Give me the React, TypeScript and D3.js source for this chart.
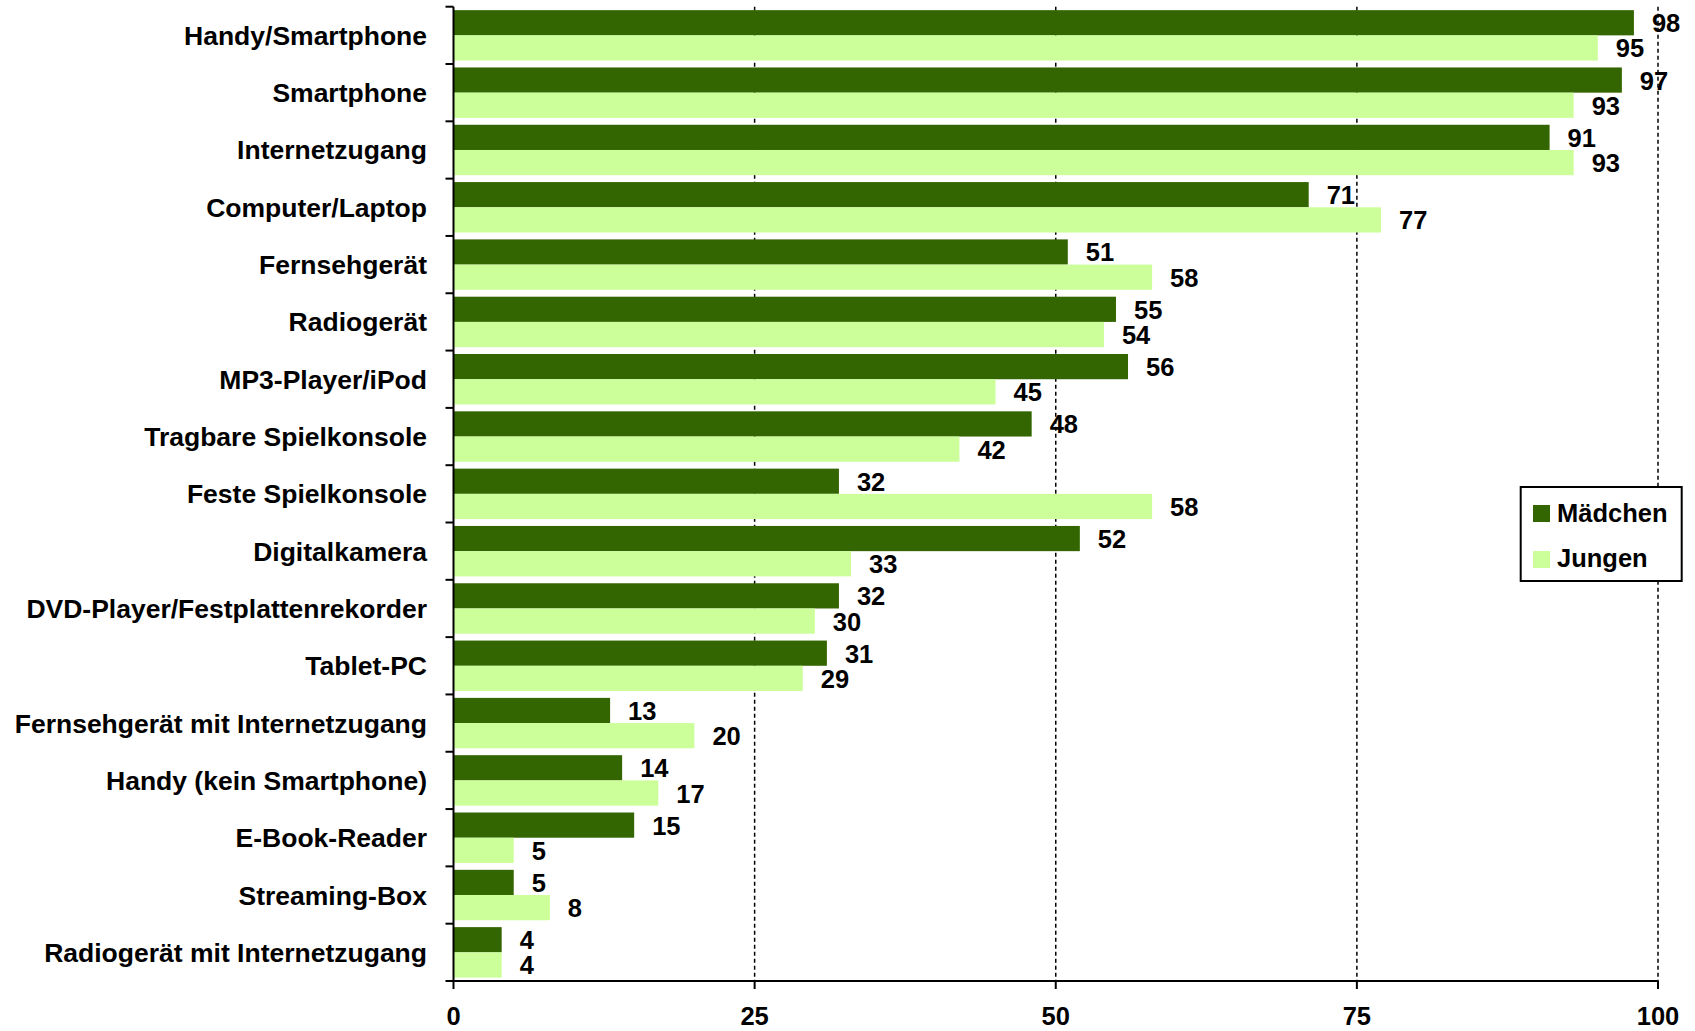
import React from "react";
import * as d3 from "d3";

const categories = [
  "Handy/Smartphone",
  "Smartphone",
  "Internetzugang",
  "Computer/Laptop",
  "Fernsehgerät",
  "Radiogerät",
  "MP3-Player/iPod",
  "Tragbare Spielkonsole",
  "Feste Spielkonsole",
  "Digitalkamera",
  "DVD-Player/Festplattenrekorder",
  "Tablet-PC",
  "Fernsehgerät mit Internetzugang",
  "Handy (kein Smartphone)",
  "E-Book-Reader",
  "Streaming-Box",
  "Radiogerät mit Internetzugang",
];
const maedchen = [98, 97, 91, 71, 51, 55, 56, 48, 32, 52, 32, 31, 13, 14, 15, 5, 4];
const jungen = [95, 93, 93, 77, 58, 54, 45, 42, 58, 33, 30, 29, 20, 17, 5, 8, 4];
const xTicks = [0, 25, 50, 75, 100];
const seriesNames = ["Mädchen", "Jungen"];
const colors = ["#336600", "#CCFF99"];

const W = 1695;
const H = 1031;
const left = 453.5;
const right = 1658;
const top = 6.7;
const bottom = 981;
const FONT = "'Liberation Sans', Arial, sans-serif";

export default function App() {
  const x = d3.scaleLinear().domain([0, 100]).range([left, right]);
  const y = d3.scaleBand<string>().domain(categories).range([top, bottom]).paddingInner(0).paddingOuter(0);
  const bw = y.bandwidth();
  const barH = bw * 0.44;
  const gap = (bw - 2 * barH) / 2;
  const series = [maedchen, jungen];

  return (
    <svg width={W} height={H} style={{ position: "absolute", left: 0, top: 0, background: "#fff" }}>
      {/* grid */}
      {xTicks.slice(1).map((t) => (
        <line key={"g" + t} x1={x(t)} x2={x(t)} y1={top} y2={bottom} stroke="#000" strokeWidth={1.5} strokeDasharray="4,3" />
      ))}
      {/* bars */}
      {categories.map((c, i) =>
        series.map((s, k) => {
          const y0 = (y(c) as number) + gap + k * barH;
          return (
            <rect key={c + k} x={x(0)} y={y0} width={x(s[i]) - x(0)} height={barH} fill={colors[k]} />
          );
        })
      )}
      {/* value labels */}
      {categories.map((c, i) =>
        series.map((s, k) => {
          const yc = (y(c) as number) + gap + k * barH + barH / 2;
          return (
            <text key={"v" + c + k} x={x(s[i]) + 18} y={yc + 9.5} fontFamily={FONT} fontWeight="bold" fontSize={25.5} fill="#000">
              {s[i]}
            </text>
          );
        })
      )}
      {/* axes */}
      <line x1={left} x2={left} y1={top} y2={bottom} stroke="#000" strokeWidth={2} />
      <line x1={left} x2={right} y1={bottom} y2={bottom} stroke="#000" strokeWidth={2} />
      {categories.map((c) => (
        <line key={"ct" + c} x1={left - 8} x2={left} y1={y(c) as number} y2={y(c) as number} stroke="#000" strokeWidth={2} />
      ))}
      <line x1={left - 8} x2={left} y1={bottom} y2={bottom} stroke="#000" strokeWidth={2} />
      {xTicks.map((t) => (
        <g key={"xt" + t}>
          <line x1={x(t)} x2={x(t)} y1={bottom} y2={bottom + 8} stroke="#000" strokeWidth={2} />
          <text x={x(t)} y={1025} textAnchor="middle" fontFamily={FONT} fontWeight="bold" fontSize={25.5} fill="#000">
            {t}
          </text>
        </g>
      ))}
      {/* category labels */}
      {categories.map((c) => (
        <text key={"cl" + c} x={427} y={(y(c) as number) + bw / 2 + 9.5} textAnchor="end" fontFamily={FONT} fontWeight="bold" fontSize={26.5} fill="#000">
          {c}
        </text>
      ))}
      {/* legend */}
      <rect x={1520.7} y={487} width={161} height={94} fill="#fff" stroke="#000" strokeWidth={2} />
      {seriesNames.map((n, k) => (
        <g key={"lg" + n}>
          <rect x={1533} y={505 + k * 46} width={17} height={17} fill={colors[k]} />
          <text x={1557} y={522 + k * 45} fontFamily={FONT} fontWeight="bold" fontSize={25.5} fill="#000">
            {n}
          </text>
        </g>
      ))}
    </svg>
  );
}
